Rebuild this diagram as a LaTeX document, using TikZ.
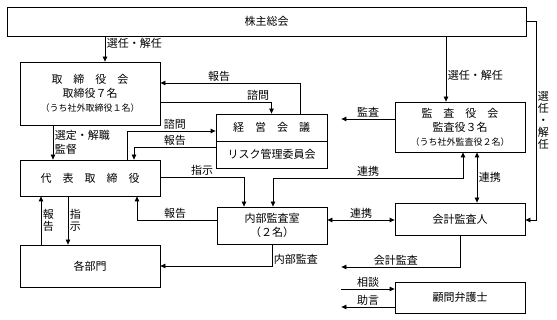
\documentclass[tikz,border=0pt]{standalone}
\usepackage{fontspec}
\setmainfont{Noto Sans CJK JP}
\usetikzlibrary{arrows.meta}

\begin{document}
\begin{tikzpicture}[x=1pt, y=-1pt,
      every node/.style={font=\fontsize{11}{14}\selectfont},
      box/.style={draw, line width=0.8pt, inner sep=1pt, align=center},
      lbox/.style={box, minimum width=140pt},
      rbox/.style={box, minimum width=130pt},
      lbl/.style={inner sep=1.5pt},
      vlbl/.style={lbl, align=center, font=\fontsize{11}{12}\selectfont},
      small/.style={font=\fontsize{9}{12}\selectfont},
      arr/.style={-{Triangle[length=5pt,width=4.5pt]}, line width=0.8pt},
      darr/.style={{Triangle[length=5pt,width=4.5pt]}-{Triangle[length=5pt,width=4.5pt]}, line width=0.8pt}
    ]
      \useasboundingbox (0,0) rectangle (557,320);
      % boxes
      \node[box, minimum width=519pt, minimum height=29pt] (soukai) at (266.5,21.5) {株主総会};
      \node[draw, double, line width=0.8pt, double distance=2.2pt, outer sep=1.9pt,
            minimum width=333pt, minimum height=265pt] (frame) at (173,181) {};
      \node[lbox, minimum height=63pt] (torikai) at (90,93.5)
        {取\quad 締\quad 役\quad 会\\取締役７名\\{\fontsize{9}{12}\selectfont （うち社外取締役１名）}};
      \node[box, minimum width=111pt, minimum height=27pt] (keiei) at (271.5,127.5) {経\quad 営\quad 会\quad 議};
      \node[box, minimum width=111pt, minimum height=27pt] (risk) at (271.5,154.5) {リスク管理委員会};
      \node[lbox, minimum height=36pt] (daihyo) at (90,178) {代\quad 表\quad 取\quad 締\quad 役};
      \node[box, minimum width=110pt, minimum height=37pt] (naibu) at (272,225.5) {内部監査室\\（２名）};
      \node[lbox, minimum height=42pt] (kakubu) at (90,266) {各部門};
      \node[rbox, minimum height=50pt] (kansayaku) at (460,127)
        {監\quad 査\quad 役\quad 会\\監査役３名\\{\fontsize{9}{12}\selectfont （うち社外監査役２名）}};
      \node[rbox, minimum height=32pt] (kaikei) at (460,219) {会計監査人};
      \node[rbox, minimum height=31pt] (komon) at (460,297.5) {顧問弁護士};

      % inside the company
      \draw[arr] (soukai.south -| 105,0) -- (torikai.north -| 105,0) node[lbl, pos=0.27, right] {選任・解任};
      \draw[arr] (keiei.north -| 300,0) |- (torikai.east |- 0,83) node[lbl, pos=0.79, above] {報告};
      \draw[arr] (torikai.east |- 0,102) -| (keiei.north) node[lbl, pos=0.44, above] {諮問};
      \draw[arr] (daihyo.north -| 127,0) |- (keiei.west |- 0,131) node[lbl, pos=0.77, above] {諮問};
      \draw[arr] (risk.west |- 0,147) -| (daihyo.north -| 134,0) node[lbl, pos=0.25, above] {報告};
      \draw[arr] (daihyo.east |- 0,177) -| (naibu.north -| 244,0) node[lbl, pos=0.25, above] {指示};
      \draw[arr] (naibu.west |- 0,220) -| (daihyo.south -| 137,0) node[lbl, pos=0.26, above] {報告};
      \draw[arr] (naibu.south) |- (kakubu.east) node[lbl, pos=0.35, right] {内部監査};
      \draw[arr] (torikai.south -| 53,0) -- (daihyo.north -| 53,0)
        node[lbl, midway, right, align=left] {選定・解職\\監督};
      \draw[arr] (kakubu.north -| 41,0) -- (daihyo.south -| 41,0) node[vlbl, midway, right] {報\\告};
      \draw[arr] (daihyo.south -| 68,0) -- (kakubu.north -| 68,0) node[vlbl, midway, right] {指\\示};

      % outside
      \draw[arr] (soukai.south -| 446,0) -- (kansayaku.north -| 446,0) node[lbl, pos=0.6, right] {選任・解任};
      \draw[arr] (kansayaku.west |- 0,119) -- (frame.east |- 0,119) node[lbl, midway, above] {監査};
      \coordinate (renkei) at (463,178);
      \draw[darr] (kansayaku.south -| renkei) -- (renkei) -| (naibu.north -| 273,0) node[lbl, pos=0.25, above] {連携};
      \draw[darr] (kansayaku.south -| 477,0) -- (kaikei.north -| 477,0) node[lbl, midway, right] {連携};
      \draw[darr] (naibu.east |- 0,220) -- (kaikei.west |- 0,220) node[lbl, midway, above] {連携};
      \draw[arr] (kaikei.south) |- (frame.east |- 0,267) node[lbl, pos=0.77, above] {会計監査};
      \draw[arr] (frame.east |- 0,289) -- (komon.west |- 0,289) node[lbl, midway, above] {相談};
      \draw[arr] (komon.west |- 0,307) -- (frame.east |- 0,307) node[lbl, midway, above] {助言};
      \coordinate (sennin) at (536,220);
      \draw[arr] (soukai.east) -| (sennin) node[vlbl, pos=0.75, right] {選\\任\\・\\解\\任}
        -- (kaikei.east |- sennin);
    \end{tikzpicture}
\end{document}
